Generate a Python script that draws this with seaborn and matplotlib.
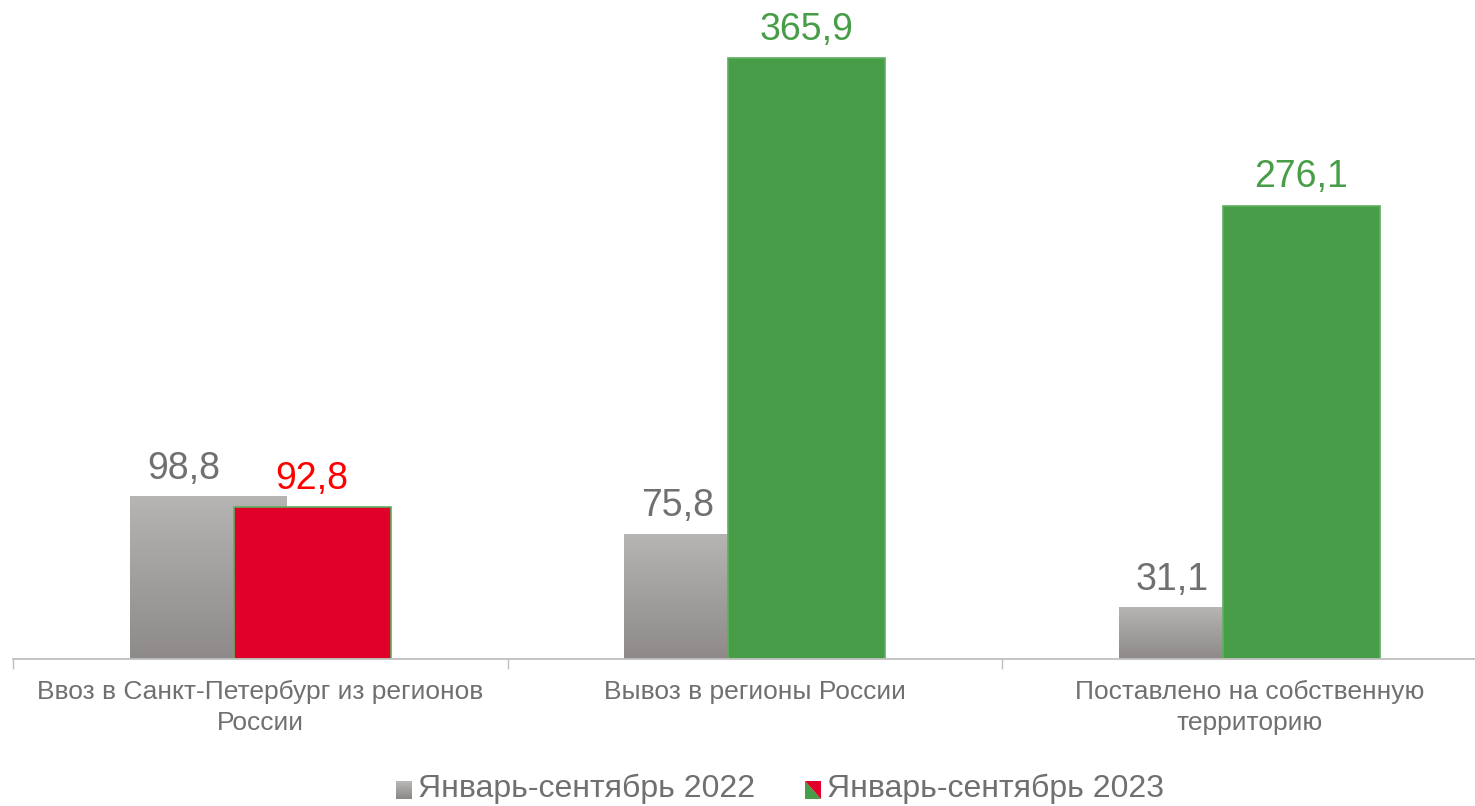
import numpy as np
import pandas as pd
import seaborn as sns
import matplotlib.pyplot as plt
from matplotlib.colors import LinearSegmentedColormap
from matplotlib.legend_handler import HandlerBase
from matplotlib.patches import Polygon, Rectangle

categories = ["Ввоз в Санкт-Петербург из регионов\nРоссии",
              "Вывоз в регионы России",
              "Поставлено на собственную\nтерриторию"]
periods = ["Январь-сентябрь 2022", "Январь-сентябрь 2023"]
values_2022 = [98.8, 75.8, 31.1]
values_2023 = [92.8, 365.9, 276.1]

GRAY_TOP = "#b6b5b4"
GRAY_BOTTOM = "#8d8a89"
RED = "#e0002a"
GREEN = "#489e48"
colors_2023 = [RED, GREEN, GREEN]
label_colors_2023 = ["#ff0000", GREEN, GREEN]
TEXT_GRAY = "#707070"
AXIS_GRAY = "#bfbfbf"

gray_cmap = LinearSegmentedColormap.from_list("bar_gray", [GRAY_BOTTOM, GRAY_TOP])

df = pd.DataFrame({
    "category": categories * 2,
    "period": [periods[0]] * 3 + [periods[1]] * 3,
    "value": values_2022 + values_2023,
})

sns.set_theme(style="white")
plt.rcParams['font.family'] = ['Liberation Sans', 'DejaVu Sans']

fig = plt.figure(figsize=(14.75, 8.06), dpi=100)
ax = fig.add_axes([13 / 1475, 147 / 806, 1483.5 / 1475, 657 / 806])

sns.barplot(data=df, x="category", y="value", hue="period",
            palette=[GRAY_TOP, GREEN], saturation=1, width=0.42,
            dodge=True, legend=False, errorbar=None, ax=ax)

bar_w = 0.317
gray_bars = ax.containers[0]
color_bars = ax.containers[1]
for bars in (gray_bars, color_bars):
    for bar in bars:
        cx = bar.get_x() + bar.get_width() / 2
        bar.set_width(bar_w)
        bar.set_x(cx - bar_w / 2)

# gradient fill for the 2022 bars
grad = np.linspace(0, 1, 256).reshape(-1, 1)
for bar in gray_bars:
    bar.set_facecolor("none")
    bar.set_edgecolor("none")
    x0 = bar.get_x()
    ax.imshow(grad, extent=[x0, x0 + bar.get_width(), 0, bar.get_height()],
              origin="lower", aspect="auto", cmap=gray_cmap, zorder=1)

for bar, c in zip(color_bars, colors_2023):
    bar.set_facecolor(c)
    bar.set_edgecolor("#5fae5f")
    bar.set_linewidth(1.2)
    bar.set_zorder(2)

# value labels
for bar, v in zip(gray_bars, values_2022):
    cx = bar.get_x() + bar.get_width() / 2
    ax.annotate(f"{v:.1f}".replace(".", ","), (cx, v), xytext=(-18, 13),
                textcoords="offset points", ha="center", va="baseline",
                fontsize=27, color=TEXT_GRAY)
for bar, v, c in zip(color_bars, values_2023, label_colors_2023):
    cx = bar.get_x() + bar.get_width() / 2
    ax.annotate(f"{v:.1f}".replace(".", ","), (cx, v), xytext=(0, 13),
                textcoords="offset points", ha="center", va="baseline",
                fontsize=27, color=c)

ax.set_xlim(-0.5, 2.5)
ax.set_ylim(0, 400)
ax.set_yticks([])
ax.set_xlabel("")
ax.set_ylabel("")
for side in ("top", "left", "right"):
    ax.spines[side].set_visible(False)
ax.spines["bottom"].set_color(AXIS_GRAY)
ax.spines["bottom"].set_linewidth(1.3)

ax.set_xticks([-0.5, 0.5, 1.5, 2.5], ["", "", "", ""])
ax.set_xticks([0, 1, 2], categories, minor=True)
ax.tick_params(axis="x", which="major", bottom=True, length=7, width=1,
               color=AXIS_GRAY)
ax.tick_params(axis="x", which="minor", bottom=True, length=0, pad=15,
               labelsize=19, labelcolor=TEXT_GRAY)
for lbl in ax.get_xticklabels(minor=True):
    lbl.set_linespacing(1.38)


class GradientHandler(HandlerBase):
    def create_artists(self, legend, orig, xd, yd, width, height, fontsize, trans):
        n = 10
        arts = []
        for i in range(n):
            arts.append(Rectangle((xd, yd + height * i / n), width, height / n * 1.05,
                                  facecolor=gray_cmap(i / (n - 1)), edgecolor="none",
                                  transform=trans))
        return arts


class SplitHandler(HandlerBase):
    def create_artists(self, legend, orig, xd, yd, width, height, fontsize, trans):
        x0, y0, x1, y1 = xd, yd, xd + width, yd + height
        green = Polygon([(x0, y1), (x0, y0), (x1, y0)], closed=True,
                        facecolor=GREEN, edgecolor="none", transform=trans)
        red = Polygon([(x0, y1), (x1, y1), (x1, y0)], closed=True,
                      facecolor=RED, edgecolor="none", transform=trans)
        return [green, red]


h1 = Rectangle((0, 0), 1, 1)
h2 = Rectangle((0, 0), 1, 1)
fig.legend([h1, h2], periods, loc="lower center", bbox_to_anchor=(0.529, -0.033),
           ncol=2, frameon=False, fontsize=23, labelcolor=TEXT_GRAY,
           handlelength=0.5, handleheight=0.5, handletextpad=0.2,
           columnspacing=1.55,
           handler_map={h1: GradientHandler(), h2: SplitHandler()})

fig.savefig("out.png", dpi=100)
plt.close(fig)
